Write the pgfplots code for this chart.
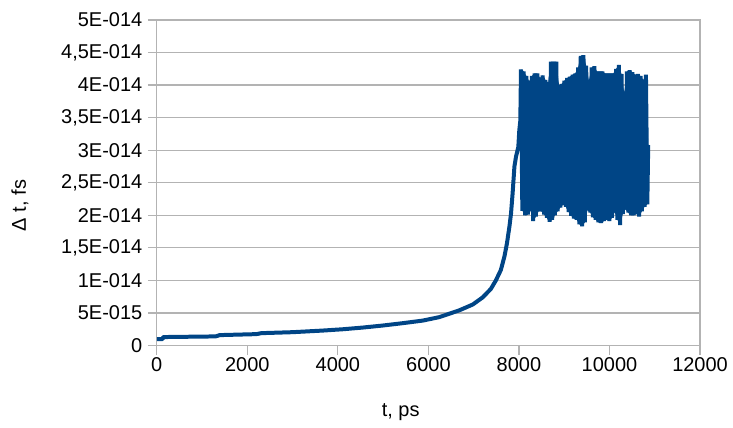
\documentclass[border=0pt]{standalone}
\usepackage{fontspec}
\setmainfont{Liberation Sans}
\usepackage{pgfplots}
\pgfplotsset{compat=1.18}
\definecolor{lineblue}{HTML}{004586}
\definecolor{gridgray}{HTML}{B3B3B3}
\begin{document}
\begin{tikzpicture}
\begin{axis}[
  name=ax,
  scale only axis, width=544pt, height=326pt,
  xmin=0, xmax=12000, ymin=0, ymax=5,
  xtick={0,2000,...,12000},
  ytick={0,0.5,...,5},
  yticklabels={0,5E-015,1E-014,{1,5E-014},2E-014,{2,5E-014},3E-014,{3,5E-014},4E-014,{4,5E-014},5E-014},
  scaled x ticks=false,
  /pgf/number format/1000 sep={},
  /pgf/number format/assume math mode=true,
  ymajorgrids,
  grid style={gridgray, line width=1.2pt},
  axis line style={gridgray, line width=1.2pt},
  tick style={gridgray, line width=1.2pt},
  major tick length=9pt,
  tick align=outside,
  tick pos=left,
  ticklabel style={font=\fontsize{20}{24}\selectfont, text=black},
  yticklabel style={xshift=-2pt},
  xlabel={t, ps}, ylabel={Δ t, fs},
  label style={font=\fontsize{20}{24}\selectfont},
  xlabel style={at={(axis description cs:0.449,-0.205)}, anchor=center},
  ylabel style={at={(axis description cs:-0.252,0.43)}, anchor=center},
]
% band interior (upper envelope, then lower envelope reversed)
\addplot[fill=lineblue, draw=none, forget plot] coordinates {
(8045,4.24) (8105,4.21) (8165,4.14) (8225,4.06) (8285,4.14) (8345,4.18) (8405,4.18)
(8465,4.11) (8525,4.15) (8585,4.08) (8645,4.04) (8705,4.36) (8765,4.36) (8825,4.36)
(8885,4.00) (8945,4.02) (9005,4.07) (9065,4.11) (9125,4.13) (9185,4.16) (9245,4.18)
(9305,4.27) (9365,4.45) (9425,4.46) (9485,4.30) (9545,4.07) (9605,4.27) (9665,4.29)
(9725,4.21) (9785,4.21) (9845,4.21) (9905,4.18) (9965,4.18) (10025,4.18) (10085,4.18)
(10145,4.25) (10205,4.31) (10265,4.17) (10325,3.88) (10385,4.21) (10445,4.23)
(10505,4.20) (10565,4.16) (10625,4.17) (10685,4.14) (10745,4.08) (10805,4.16)
(10855,3.08)
(10835,2.17) (10775,2.13) (10715,2.06) (10655,1.98) (10595,2.02) (10535,2.00)
(10475,2.00) (10415,2.04) (10355,2.09) (10295,2.02) (10235,1.85) (10175,1.93)
(10115,2.05) (10055,1.96) (9995,1.91) (9935,1.93) (9875,1.91) (9815,1.88) (9755,1.89)
(9695,1.93) (9635,1.97) (9575,2.04) (9515,2.08) (9455,1.89) (9395,1.83) (9335,1.86)
(9275,1.93) (9215,1.95) (9155,1.99) (9095,2.05) (9035,2.13) (8975,2.16) (8915,2.12)
(8855,2.06) (8795,2.00) (8735,1.93) (8675,1.90) (8615,1.96) (8555,2.01) (8495,2.06)
(8435,2.06) (8375,1.98) (8315,1.91) (8255,2.07) (8195,2.01) (8135,2.00) (8075,2.07)
(8045,2.50)
};
\addplot[lineblue, line width=4pt, line join=bevel, line cap=butt] coordinates {
(0,0.10) (130,0.10) (140,0.13) (1300,0.14) (1390,0.16) (2200,0.175) (2310,0.19)
(3000,0.205) (3670,0.23) (4110,0.25) (4550,0.276) (4990,0.307) (5430,0.343)
(5875,0.383) (6240,0.436) (6680,0.54) (6980,0.63) (7200,0.74) (7380,0.87)
(7490,1.00) (7600,1.16) (7680,1.37) (7735,1.57) (7790,1.83) (7825,2.03)
(7860,2.34) (7900,2.75) (7935,2.90) (7986,3.05) (8008,3.31) (8030,3.45)
(8045,4.24) (8075,2.07) (8105,4.21) (8135,2.00) (8165,4.14) (8195,2.01)
(8225,4.06) (8255,2.07) (8285,4.14) (8315,1.91) (8345,4.18) (8375,1.98)
(8405,4.18) (8435,2.06) (8465,4.11) (8495,2.06) (8525,4.15) (8555,2.01)
(8585,4.08) (8615,1.96) (8645,4.04) (8675,1.90) (8705,4.36) (8735,1.93)
(8765,4.36) (8795,2.00) (8825,4.36) (8855,2.06) (8885,4.00) (8915,2.12)
(8945,4.02) (8975,2.16) (9005,4.07) (9035,2.13) (9065,4.11) (9095,2.05)
(9125,4.13) (9155,1.99) (9185,4.16) (9215,1.95) (9245,4.18) (9275,1.93)
(9305,4.27) (9335,1.86) (9365,4.45) (9395,1.83) (9425,4.46) (9455,1.89)
(9485,4.30) (9515,2.08) (9545,4.07) (9575,2.04) (9605,4.27) (9635,1.97)
(9665,4.29) (9695,1.93) (9725,4.21) (9755,1.89) (9785,4.21) (9815,1.88)
(9845,4.21) (9875,1.91) (9905,4.18) (9935,1.93) (9965,4.18) (9995,1.91)
(10025,4.18) (10055,1.96) (10085,4.18) (10115,2.05) (10145,4.25) (10175,1.93)
(10205,4.31) (10235,1.85) (10265,4.17) (10295,2.02) (10325,3.88) (10355,2.09)
(10385,4.21) (10415,2.04) (10445,4.23) (10475,2.00) (10505,4.20) (10535,2.00)
(10565,4.16) (10595,2.02) (10625,4.17) (10655,1.98) (10685,4.14) (10715,2.06)
(10745,4.08) (10775,2.13) (10805,4.16) (10835,2.17) (10855,3.08)
};
\end{axis}
\path ([shift={(-157pt,-82pt)}]ax.south west) rectangle ([shift={(33pt,20pt)}]ax.north east);
\end{tikzpicture}
\end{document}
